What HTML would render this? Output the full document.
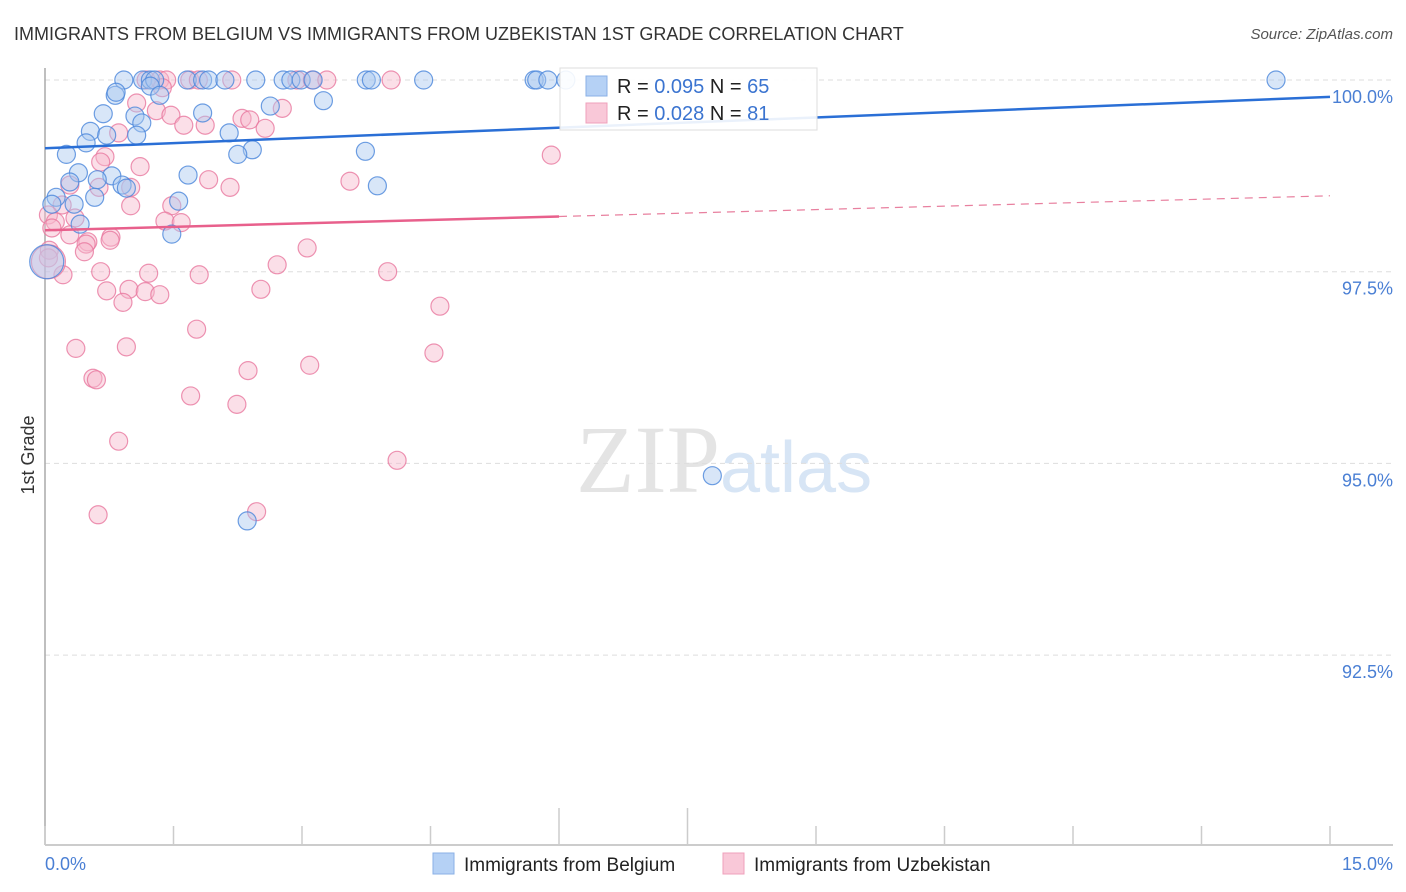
<!DOCTYPE html>
<html><head><meta charset="utf-8"><style>
body{margin:0;background:#fff;font-family:"Liberation Sans",sans-serif;}
svg{display:block}
</style></head><body>
<svg id="chart" width="1406" height="892" xmlns="http://www.w3.org/2000/svg">
<text x="14" y="40" font-size="18" fill="#333">IMMIGRANTS FROM BELGIUM VS IMMIGRANTS FROM UZBEKISTAN 1ST GRADE CORRELATION CHART</text>
<text x="1393" y="39" font-size="15" fill="#555" font-style="italic" text-anchor="end">Source: ZipAtlas.com</text>
<text x="720" y="492" font-size="96" font-family="Liberation Serif,serif" fill="#e4e4e4" text-anchor="end">ZIP</text>
<text x="720" y="492" font-size="72" fill="#d7e5f5">atlas</text>
<g id="grid"></g>
<g id="axes"></g>
<g id="pts"></g>
<g id="trends"></g>
<text transform="translate(34,455) rotate(-90)" font-size="18" fill="#333" text-anchor="middle">1st Grade</text>
<text x="45" y="870" font-size="18" fill="#4a7fd4">0.0%</text>
<text x="1393" y="870" font-size="18" fill="#4a7fd4" text-anchor="end">15.0%</text>
<g>
<rect x="560" y="68" width="257" height="62" fill="#fff" fill-opacity="0.9" stroke="#ddd"/>
<rect x="586" y="76" width="21" height="20" fill="#b5d1f5" stroke="#8ab0e6"/>
<rect x="586" y="103" width="21" height="20" fill="#f9c8d8" stroke="#efa0bb"/>
<text x="617" y="93" font-size="20" fill="#222">R = <tspan fill="#3b74d0">0.095</tspan>    N = <tspan fill="#3b74d0">65</tspan></text>
<text x="617" y="120" font-size="20" fill="#222">R = <tspan fill="#3b74d0">0.028</tspan>    N = <tspan fill="#3b74d0"> 81</tspan></text>
</g>
<g>
<rect x="433" y="853" width="21" height="21" fill="#b5d1f5" stroke="#8ab0e6"/>
<text x="464" y="871" font-size="19" fill="#222">Immigrants from Belgium</text>
<rect x="723" y="853" width="21" height="21" fill="#f9c8d8" stroke="#efa0bb"/>
<text x="754" y="871" font-size="19" fill="#222">Immigrants from Uzbekistan</text>
</g>
</svg>
<script>
const yTicks=[100,97.5,95,92.5];
const yTickLabels=["100.0%","97.5%","95.0%","92.5%"];
const xTicks=[0,1.5,3,4.5,6,7.5,9,10.5,12,13.5,15];
const belgiumX=[0.92,1.14,1.23,1.28,1.66,1.84,1.91,2.10,2.46,2.78,2.87,2.99,3.13,3.75,3.81,4.42,5.71,5.74,5.87,6.08,14.37,1.23,0.82,0.83,1.34,3.25,0.68,1.84,2.63,1.05,1.13,0.53,0.72,1.07,2.15,0.48,2.42,0.25,2.25,3.74,0.39,1.67,0.78,0.61,0.90,0.95,3.88,0.29,0.13,0.08,0.34,0.58,1.56,0.41,1.48,0.02,7.79,2.36];
const belgiumY=[100,100,100,100,100,100,100,100,100,100,100,100,100,100,100,100,100,100,100,100,100,99.92,99.80,99.84,99.80,99.73,99.56,99.57,99.66,99.53,99.44,99.33,99.28,99.28,99.31,99.18,99.09,99.03,99.03,99.07,98.79,98.76,98.75,98.70,98.63,98.59,98.62,98.67,98.47,98.38,98.38,98.47,98.42,98.12,97.99,97.63,94.84,94.25];
const uzbekX=[1.18,1.34,1.42,1.69,1.79,2.18,2.94,3.12,3.29,4.04,1.37,1.07,2.77,1.30,1.47,2.30,2.39,1.62,1.87,2.57,0.86,0.70,5.91,0.65,0.29,0.63,1.00,1.91,2.16,3.56,1.11,0.20,1.00,1.48,0.04,0.35,0.12,1.40,1.59,0.08,0.29,0.77,0.76,0.50,0.48,3.06,0.46,0.05,0.04,0.21,1.21,0.65,1.80,2.71,4.00,0.72,2.52,0.98,1.17,1.34,0.91,4.61,1.77,0.36,0.95,4.54,3.09,2.37,0.56,0.60,1.70,2.24,0.86,4.11,0.62,2.47,0.04];
const uzbekY=[100,100,100,100,100,100,100,100,100,100,99.90,99.70,99.63,99.60,99.54,99.50,99.48,99.41,99.41,99.37,99.31,99.00,99.02,98.93,98.63,98.60,98.60,98.70,98.60,98.68,98.87,98.37,98.36,98.36,98.24,98.20,98.15,98.16,98.14,98.07,97.98,97.95,97.91,97.89,97.86,97.81,97.76,97.78,97.68,97.46,97.48,97.50,97.46,97.59,97.50,97.25,97.27,97.27,97.24,97.20,97.10,97.05,96.75,96.50,96.52,96.44,96.28,96.21,96.11,96.09,95.88,95.77,95.29,95.04,94.33,94.37,97.63];
const belgiumTrend=[99.11,99.78];
const uzbekTrend=[98.04,98.49];
const NS="http://www.w3.org/2000/svg";
const xs=v=>45+v/15*1285;
const ys=v=>80+(100-v)/2.5*191.7;
function mk(tag,at,parent){const e=document.createElementNS(NS,tag);for(const k in at)e.setAttribute(k,at[k]);parent.appendChild(e);return e;}
const grid=document.getElementById('grid'),axes=document.getElementById('axes'),pts=document.getElementById('pts'),tr=document.getElementById('trends');
yTicks.forEach((t,i)=>{
 const l=mk('line',{x1:45,x2:1393,y1:ys(t),y2:ys(t),stroke:'#ddd','stroke-dasharray':'5,4'},grid);
 
 
 const tx=mk('text',{x:1393,y:ys(t)+23,'font-size':18,fill:'#4a7fd4','text-anchor':'end'},axes);
 tx.textContent=yTickLabels[i];
 
 
});
const ax=mk('line',{x1:45,x2:45,y1:68,y2:845,stroke:'#aaa','stroke-width':1.5},axes);


const bx=mk('line',{x1:45,x2:1393,y1:845,y2:845,stroke:'#bbb','stroke-width':1.5},axes);


xTicks.forEach((t,i)=>{
 const tk=mk('line',{x1:xs(t),x2:xs(t),y1:(i==4||i==5)?808:826,y2:845,stroke:'#ccc','stroke-width':1.5},axes);
 
 
});
function dots(X,Y,fill,stroke,name){
 X.forEach((x,i)=>{
  const big=(x<0.05&&Math.abs(Y[i]-97.63)<0.01);
  const c=mk('circle',{cx:xs(x),cy:ys(Y[i]),r:big?17:9,fill:fill,'fill-opacity':0.45,stroke:stroke,'stroke-width':1.2,'stroke-opacity':0.8},pts);
  
  
 });
}
dots(uzbekX,uzbekY,'#f7b8cc','#e8789f','point-uzbekistan');
dots(belgiumX,belgiumY,'#a9c8f0','#4a86db','point-belgium');
const b=mk('line',{x1:xs(0),y1:ys(belgiumTrend[0]),x2:xs(15),y2:ys(belgiumTrend[1]),stroke:'#2a6fd6','stroke-width':2.5},tr);


const um=uzbekTrend[0]+(uzbekTrend[1]-uzbekTrend[0])*6/15;
const u1=mk('line',{x1:xs(0),y1:ys(uzbekTrend[0]),x2:xs(6),y2:ys(um),stroke:'#e8608c','stroke-width':2.5},tr);


const u2=mk('line',{x1:xs(6),y1:ys(um),x2:xs(15),y2:ys(uzbekTrend[1]),stroke:'#e8809f','stroke-width':1.2,'stroke-dasharray':'8,6'},tr);


</script>
</body></html>
